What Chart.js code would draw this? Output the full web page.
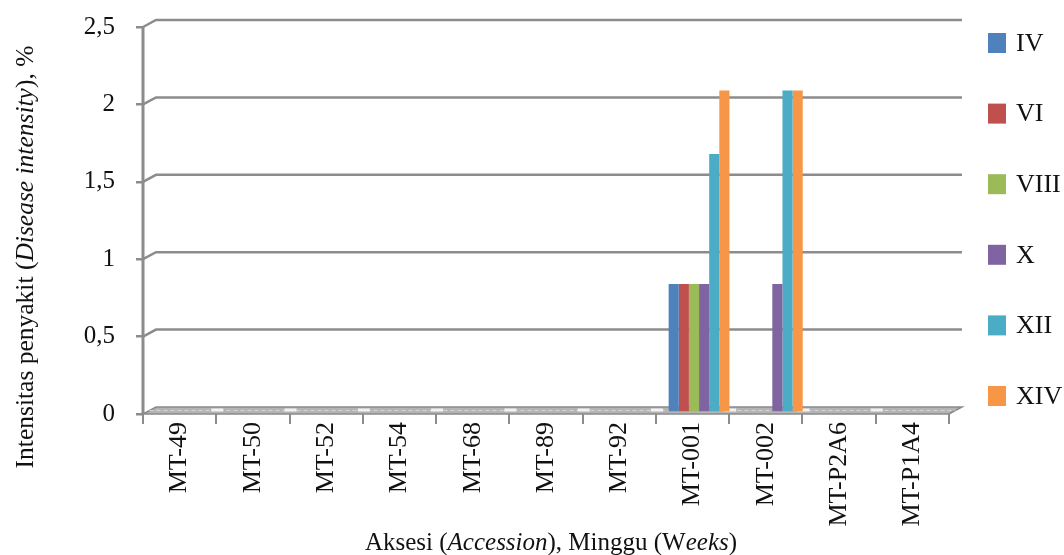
<!DOCTYPE html>
<html>
<head>
<meta charset="utf-8">
<script src="https://cdn.jsdelivr.net/npm/chart.js@4.4.1/dist/chart.umd.min.js"></script>
<style>
  html, body { margin: 0; padding: 0; background: #ffffff; }
  #wrap { width: 1064px; height: 555px; position: relative; }
</style>
</head>
<body>
<div id="wrap"><canvas id="chart" width="1064" height="555"></canvas></div>
<script>
// Accessions (categories) and disease intensity (%) per observation week
const accessions = ['MT-49', 'MT-50', 'MT-52', 'MT-54', 'MT-68', 'MT-89', 'MT-92', 'MT-001', 'MT-002', 'MT-P2A6', 'MT-P1A4'];
const weekLabels = ['IV', 'VI', 'VIII', 'X', 'XII', 'XIV'];

const weekIV   = [0, 0, 0, 0, 0, 0, 0, 0.83, 0,    0, 0];
const weekVI   = [0, 0, 0, 0, 0, 0, 0, 0.83, 0,    0, 0];
const weekVIII = [0, 0, 0, 0, 0, 0, 0, 0.83, 0,    0, 0];
const weekX    = [0, 0, 0, 0, 0, 0, 0, 0.83, 0.83, 0, 0];
const weekXII  = [0, 0, 0, 0, 0, 0, 0, 1.67, 2.08, 0, 0];
const weekXIV  = [0, 0, 0, 0, 0, 0, 0, 2.08, 2.08, 0, 0];

const yTicks = [0, 0.5, 1, 1.5, 2, 2.5];

const seriesValues = [weekIV, weekVI, weekVIII, weekX, weekXII, weekXIV];
const seriesColors = ['#4F81BD', '#C0504D', '#9BBB59', '#8064A2', '#4BACC6', '#F79646'];

const FONT = '"Liberation Serif", "Times New Roman", serif';
const GRID = '#8c8c8c';
const DEPTH_X = 13, DEPTH_Y = -7;

// Back-wall gridlines, floor and axis drawn with a slight perspective depth
const wallPlugin = {
  id: 'wall',
  beforeDatasetsDraw(chart) {
    const { ctx, chartArea: a, scales } = chart;
    const y = scales.y;
    const x = scales.x;
    ctx.save();
    ctx.lineWidth = 2.5;
    ctx.strokeStyle = GRID;
    yTicks.forEach(v => {
      if (v === 0) return;
      const py = y.getPixelForValue(v);
      ctx.beginPath();
      ctx.moveTo(a.left, py);
      ctx.lineTo(a.left + DEPTH_X, py + DEPTH_Y);
      ctx.lineTo(a.right + DEPTH_X, py + DEPTH_Y);
      ctx.stroke();
    });
    // floor
    const py0 = y.getPixelForValue(0);
    ctx.beginPath();
    ctx.moveTo(a.left, py0);
    ctx.lineTo(a.right, py0);
    ctx.lineTo(a.right + DEPTH_X, py0 + DEPTH_Y);
    ctx.lineTo(a.left + DEPTH_X, py0 + DEPTH_Y);
    ctx.closePath();
    ctx.fillStyle = '#b4b4b4';
    ctx.fill();
    ctx.lineWidth = 1.5;
    ctx.strokeStyle = '#8a8a8a';
    ctx.stroke();
    // flat zero-value markers on the floor
    ctx.strokeStyle = '#d4d4d4';
    ctx.lineWidth = 1;
    ctx.setLineDash([4, 3]);
    ctx.beginPath();
    ctx.moveTo(a.left + DEPTH_X / 2, py0 + DEPTH_Y / 2);
    ctx.lineTo(a.right + DEPTH_X / 2, py0 + DEPTH_Y / 2);
    ctx.stroke();
    ctx.setLineDash([]);
    // light gaps between accession groups on the floor
    ctx.fillStyle = '#f2f2f2';
    const n = accessions.length;
    for (let i = 1; i < n; i++) {
      const bx = (x.getPixelForValue(i - 1) + x.getPixelForValue(i)) / 2;
      ctx.fillRect(bx - 5, py0 + DEPTH_Y / 2 - 2, 12, 3);
    }
    // left wall edge
    ctx.lineWidth = 3;
    ctx.strokeStyle = GRID;
    ctx.beginPath();
    ctx.moveTo(a.left, py0);
    ctx.lineTo(a.left, y.getPixelForValue(2.5));
    ctx.stroke();
    ctx.restore();
    // bars stand half-way into the depth of the plot
    ctx.save();
    ctx.translate(DEPTH_X / 2, -1.5);
  },
  afterDatasetsDraw(chart) {
    chart.ctx.restore();
  }
};

function drawRich(ctx, parts, cx, cy, size) {
  const fontOf = p => (p.italic ? 'italic ' : '') + size + 'px ' + FONT;
  let total = 0;
  parts.forEach(p => { ctx.font = fontOf(p); total += ctx.measureText(p.t).width; });
  let x = cx - total / 2;
  ctx.textAlign = 'left';
  ctx.textBaseline = 'alphabetic';
  parts.forEach(p => {
    ctx.font = fontOf(p);
    ctx.fillText(p.t, x, cy);
    x += ctx.measureText(p.t).width;
  });
}

// Axis titles with italic English terms, and the week legend
const decorPlugin = {
  id: 'decor',
  afterDraw(chart) {
    const { ctx, chartArea: a } = chart;
    ctx.save();
    ctx.fillStyle = '#111111';
    drawRich(ctx, [
      { t: 'Aksesi (' }, { t: 'Accession', italic: true }, { t: '), Minggu (W' },
      { t: 'eeks', italic: true }, { t: ')' }
    ], (a.left + a.right) / 2 + 5, 550, 25);

    ctx.save();
    ctx.translate(33, 257);
    ctx.rotate(-Math.PI / 2);
    drawRich(ctx, [
      { t: 'Intensitas penyakit (' }, { t: 'Disease intensity', italic: true }, { t: '), %' }
    ], 0, 0, 25.5);
    ctx.restore();

    // legend
    const top = 43, step = 70.6;
    chart.data.datasets.forEach((ds, i) => {
      const cy = top + i * step;
      ctx.fillStyle = ds.backgroundColor;
      ctx.fillRect(988, cy - 10, 18, 20);
      ctx.fillStyle = '#111111';
      ctx.font = '26px ' + FONT;
      ctx.textAlign = 'left';
      ctx.textBaseline = 'middle';
      ctx.fillText(ds.label, 1016, cy + 1);
    });
    ctx.restore();
  }
};

const datasets = weekLabels.map((lab, i) => ({
  label: lab,
  data: seriesValues[i],
  backgroundColor: seriesColors[i],
  borderWidth: 0,
  categoryPercentage: 0.83,
  barPercentage: 1.0
}));

new Chart(document.getElementById('chart'), {
  type: 'bar',
  data: { labels: accessions, datasets },
  plugins: [wallPlugin, decorPlugin],
  options: {
    responsive: false,
    animation: false,
    layout: { padding: { left: 0, right: 115, top: 27, bottom: 0 } },
    plugins: { legend: { display: false }, tooltip: { enabled: false } },
    scales: {
      x: {
        afterFit(scale) { scale.height = 141; },
        grid: {
          offset: true,
          drawOnChartArea: false,
          drawTicks: true,
          tickLength: 10,
          color: GRID,
          lineWidth: 2
        },
        border: { display: false },
        ticks: {
          autoSkip: false,
          minRotation: 90,
          maxRotation: 90,
          padding: -2,
          color: '#111111',
          font: { family: FONT, size: 26 }
        }
      },
      y: {
        min: 0,
        max: 2.5,
        afterFit(scale) {
          scale.width = 143;
          scale.paddingTop = 0;
          scale.paddingBottom = 0;
        },
        afterBuildTicks(scale) { scale.ticks = yTicks.map(v => ({ value: v })); },
        grid: {
          drawOnChartArea: false,
          drawTicks: true,
          tickLength: 7,
          color: GRID,
          lineWidth: 2.5
        },
        border: { display: false },
        ticks: {
          padding: 21,
          color: '#111111',
          font: { family: FONT, size: 25 },
          callback: v => String(v).replace('.', ',')
        }
      }
    }
  }
});
</script>
</body>
</html>
